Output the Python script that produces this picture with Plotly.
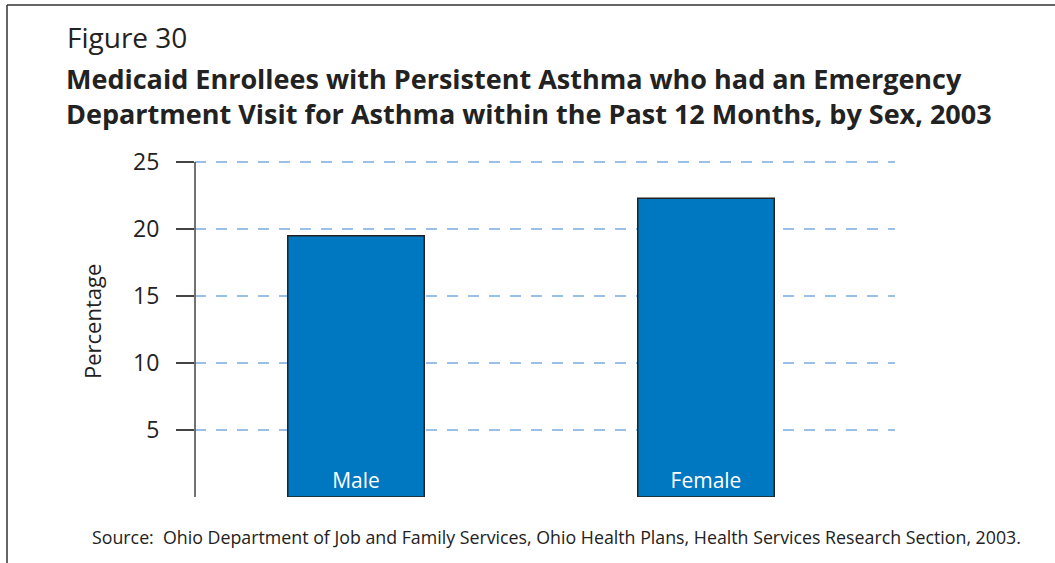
import plotly.graph_objects as go

# Data
categories = ["Male", "Female"]
percentages = [19.5, 22.3]
y_ticks = [5, 10, 15, 20, 25]

FONT = "Open Sans"
W, H = 1055, 563
Y_MAX = 25.3
ML, MR, MT, MB = 195, 160, 158, 66
PW, PH = W - ML - MR, H - MT - MB


def px_x(px):
    return (px - ML) / PW


def px_y(py):
    return (H - MB - py) / PH


fig = go.Figure(
    go.Bar(
        x=list(range(len(categories))),
        y=percentages,
        text=categories,
        textposition="inside",
        insidetextanchor="start",
        textfont=dict(family=FONT, size=21, color="white"),
        marker=dict(color="#0077c1", line=dict(color="#222222", width=1.5)),
        width=0.39,
        hoverinfo="skip",
    )
)

fig.update_layout(
    width=W,
    height=H,
    margin=dict(l=ML, r=MR, t=MT, b=MB, autoexpand=False),
    paper_bgcolor="white",
    plot_bgcolor="white",
    showlegend=False,
    font=dict(family=FONT, color="#222222"),
    xaxis=dict(
        range=[-0.46, 1.54],
        showticklabels=False,
        showgrid=False,
        zeroline=False,
        ticks="",
    ),
    yaxis=dict(
        range=[0, Y_MAX],
        tickvals=y_ticks,
        ticktext=[str(v) for v in y_ticks],
        tickfont=dict(family=FONT, size=23, color="#222222"),
        ticklabelstandoff=12,
        ticks="outside",
        ticklen=18,
        tickwidth=1.5,
        tickcolor="#444444",
        showline=False,
        showgrid=True,
        gridcolor="#9bc0e8",
        gridwidth=1.5,
        griddash="11px,10px",
        zeroline=False,
    ),
)

annotations = [
    dict(text="Figure 30", x=px_x(65), y=px_y(37), xanchor="left", yanchor="middle",
         font=dict(family=FONT, size=28, color="#222222")),
    dict(text="<b>Medicaid Enrollees with Persistent Asthma who had an Emergency</b>",
         x=px_x(64), y=px_y(79), xanchor="left", yanchor="middle",
         font=dict(family=FONT, size=27, color="#222222")),
    dict(text="<b>Department Visit for Asthma within the Past 12 Months, by Sex, 2003</b>",
         x=px_x(64), y=px_y(113), xanchor="left", yanchor="middle",
         font=dict(family=FONT, size=27, color="#222222")),
    dict(text="Percentage", x=px_x(92), y=px_y(322), textangle=-90,
         xanchor="center", yanchor="middle",
         font=dict(family=FONT, size=22, color="#222222")),
    dict(text="Source:  Ohio Department of Job and Family Services, Ohio Health Plans, "
              "Health Services Research Section, 2003.",
         x=px_x(556), y=px_y(537), xanchor="center", yanchor="middle",
         font=dict(family=FONT, size=17.8, color="#222222")),
]
for a in annotations:
    a.update(xref="paper", yref="paper", showarrow=False)
fig.update_layout(annotations=annotations)

# Vertical axis line running from 0 up to the top tick
fig.add_shape(type="line", xref="paper", yref="y",
              x0=0, x1=0, y0=0, y1=y_ticks[-1],
              line=dict(color="#444444", width=1.5))

# Frame lines along the top and left edges of the page
fig.add_shape(type="line", xref="paper", yref="paper",
              x0=px_x(7), x1=px_x(1060), y0=px_y(5), y1=px_y(5),
              line=dict(color="#333333", width=1.5))
fig.add_shape(type="line", xref="paper", yref="paper",
              x0=px_x(7), x1=px_x(7), y0=px_y(5), y1=px_y(570),
              line=dict(color="#333333", width=1.5))

fig.write_html("out.html")
